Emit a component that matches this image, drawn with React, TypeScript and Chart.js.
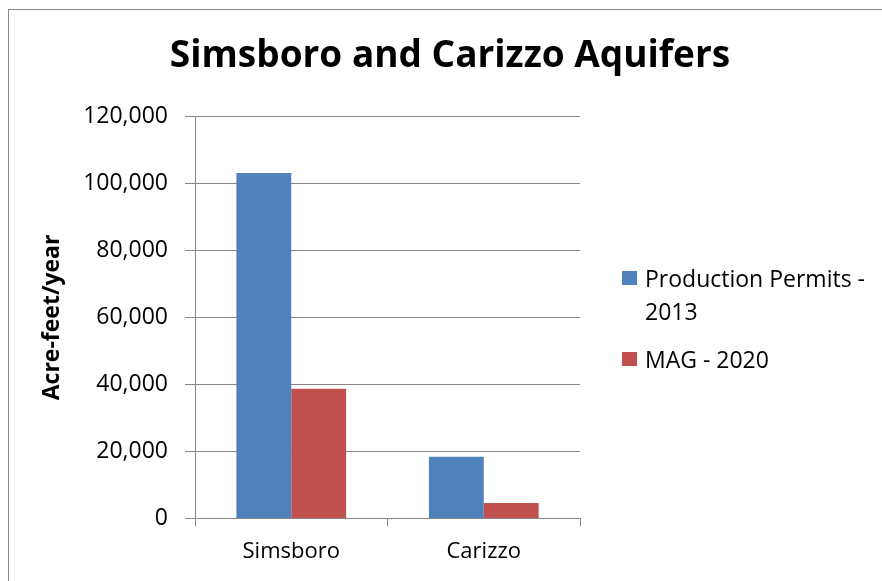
import React, { useEffect, useRef } from "react";
import { Chart, registerables } from "chart.js";

Chart.register(...registerables);

const title = "Simsboro and Carizzo Aquifers";
const yAxisTitle = "Acre-feet/year";
const categories = ["Simsboro", "Carizzo"];
const seriesNames = ["Production Permits - 2013", "MAG - 2020"];
const permits2013 = [103100, 18400];
const mag2020 = [38700, 4600];
const seriesColors = ["#4F81BD", "#C0504D"];
const yMin = 0;
const yMax = 120000;
const yStep = 20000;

const FONT = "'Open Sans', 'DejaVu Sans', sans-serif";
const GRAY = "#868686";

export default function App() {
  const canvasRef = useRef<HTMLCanvasElement | null>(null);

  useEffect(() => {
    const canvas = canvasRef.current;
    if (!canvas) return;
    const chart = new Chart(canvas, {
      type: "bar",
      data: {
        labels: categories,
        datasets: [
          {
            label: seriesNames[0],
            data: permits2013,
            backgroundColor: seriesColors[0],
            borderWidth: 0,
            yAxisID: "y",
          },
          {
            label: seriesNames[1],
            data: mag2020,
            backgroundColor: seriesColors[1],
            borderWidth: 0,
            yAxisID: "y",
          },
        ],
      },
      options: {
        responsive: false,
        animation: false,
        devicePixelRatio: 1,
        layout: { padding: { left: 18, right: 0, top: 0, bottom: 0 } },
        datasets: {
          bar: { categoryPercentage: 0.57, barPercentage: 1 },
        },
        plugins: {
          legend: { display: false },
          tooltip: { enabled: false },
          title: {
            display: true,
            text: title,
            color: "#000",
            font: { family: FONT, size: 37, weight: "bold", lineHeight: 1.2 },
            padding: { top: 34, bottom: 38 },
          },
        },
        scales: {
          x: {
            position: "bottom",
            grid: {
              display: true,
              drawOnChartArea: false,
              drawTicks: true,
              tickLength: 8,
              color: GRAY,
              lineWidth: 1,
              offset: true,
            },
            border: { display: true, color: GRAY, width: 1 },
            ticks: {
              color: "#000",
              font: { family: FONT, size: 22, lineHeight: 1.2 },
              padding: 12,
              maxRotation: 0,
            },
            afterFit: (s: any) => {
              s.height = 581 - 518.5;
            },
          },
          y: {
            position: "left",
            min: yMin,
            max: yMax,
            grid: {
              display: true,
              drawOnChartArea: true,
              drawTicks: true,
              tickLength: 10,
              color: GRAY,
              lineWidth: 1,
            },
            border: { display: true, color: GRAY, width: 1 },
            ticks: {
              stepSize: yStep,
              color: "#000",
              font: { family: FONT, size: 23, lineHeight: 1.2 },
              padding: 17,
              callback: (v: any) => Number(v).toLocaleString("en-US"),
            },
            title: {
              display: true,
              text: yAxisTitle,
              color: "#000",
              font: { family: FONT, size: 23, weight: "bold", lineHeight: 1.2 },
              padding: { top: 21, bottom: 0 },
            },
            afterFit: (s: any) => {
              s.width = 195 - 18;
            },
          },
          yRight: {
            position: "right",
            display: true,
            grid: { display: false, drawTicks: false },
            border: { display: false },
            ticks: { display: false },
            afterFit: (s: any) => {
              s.width = 882 - 580;
            },
          },
        },
      },
    });
    return () => chart.destroy();
  }, []);

  return (
    <div
      style={{
        position: "fixed",
        left: 0,
        top: 0,
        width: 882,
        height: 581,
        overflow: "hidden",
        background: "#fff",
      }}
    >
      <div
        style={{
          position: "absolute",
          left: 8,
          top: 9,
          width: 2000,
          height: 2000,
          borderLeft: `1px solid ${GRAY}`,
          borderTop: `1px solid ${GRAY}`,
        }}
      />
      <canvas
        ref={canvasRef}
        width={882}
        height={581}
        style={{ position: "absolute", left: 0, top: 0, width: 882, height: 581 }}
      />
      <div
        style={{
          position: "absolute",
          left: 622,
          top: 262,
          fontFamily: FONT,
          fontSize: 23,
          lineHeight: "32.5px",
          color: "#000",
        }}
      >
        {seriesNames.map((name, i) => (
          <div
            key={name}
            style={{ display: "flex", alignItems: "flex-start", marginBottom: 15.5 }}
          >
            <div
              style={{
                width: 15,
                height: 14,
                marginTop: 9,
                marginRight: 8,
                background: seriesColors[i],
                flex: "none",
              }}
            />
            <div style={{ width: 240 }}>{name}</div>
          </div>
        ))}
      </div>
    </div>
  );
}
